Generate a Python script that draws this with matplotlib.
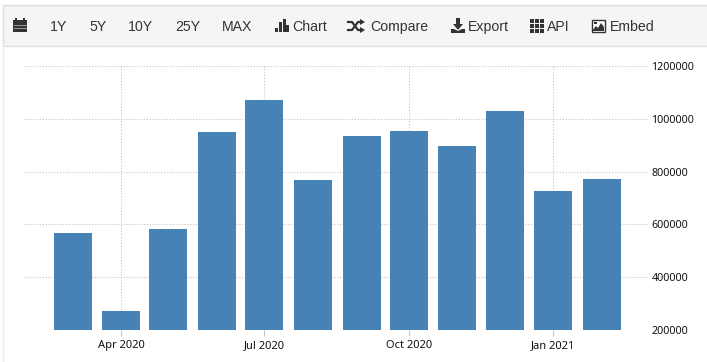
#!/usr/bin/env python3
import datetime as dt

import matplotlib
matplotlib.use("Agg")
import matplotlib.dates as mdates
import matplotlib.pyplot as plt
from matplotlib.patches import Rectangle, Polygon
from matplotlib.ticker import ScalarFormatter

W, H = 707, 362

months = ["2020-03", "2020-04", "2020-05", "2020-06", "2020-07", "2020-08",
          "2020-09", "2020-10", "2020-11", "2020-12", "2021-01", "2021-02"]
values = [567000, 272000, 582000, 950000, 1071000, 768000,
          935000, 954000, 897000, 1030000, 727000, 772000]
y_ticks = [200000, 400000, 600000, 800000, 1000000, 1200000]
x_ticks = ["2020-04", "2020-07", "2020-10", "2021-01"]
x_tick_labels = ["Apr 2020", "Jul 2020", "Oct 2020", "Jan 2021"]
toolbar_labels = ["1Y", "5Y", "10Y", "25Y", "MAX", "Chart", "Compare", "Export", "API", "Embed"]

BAR = "#4682b4"
GRID = "#c4c4c4"
TXT = "#333333"
ICON = "#333333"


def to_date(s):
    return mdates.date2num(dt.datetime.strptime(s, "%Y-%m"))


fig = plt.figure(figsize=(W / 100, H / 100), dpi=100, facecolor="white")

# page layer in pixel coordinates, toolbar and its icons live here
bg = fig.add_axes([0, 0, 1, 1])
bg.set_xlim(0, W)
bg.set_ylim(H, 0)
bg.axis("off")

bg.add_patch(Rectangle((3, 5), W, 41, fc="#f5f5f5", ec="#dddddd", lw=1))
bg.plot([3, 3], [46, H], color="#efefef", lw=1)

text_x = [50, 89, 128, 175, 222, 292, 370, 468, 547, 610]
for x, s in zip(text_x, toolbar_labels):
    bg.text(x, 25.5, s, family="Liberation Sans", fontsize=10.2, color=TXT, ha="left", va="center_baseline")

# calendar
bg.add_patch(Rectangle((13, 20), 14, 12, fc=ICON, ec="none"))
bg.add_patch(Rectangle((15, 18), 2, 3, fc=ICON, ec="none"))
bg.add_patch(Rectangle((23, 18), 2, 3, fc=ICON, ec="none"))
for yy in (25, 28):
    bg.plot([14, 26], [yy, yy], color="#999999", lw=0.7)

# bars icon
for x0, top in [(275, 28), (279, 22), (283, 19), (286, 25)]:
    bg.add_patch(Rectangle((x0, top), 2.6, 32 - top, fc=ICON, ec="none"))

# shuffle icon
bg.plot([348, 352, 358, 362], [22, 22, 30, 30], color=ICON, lw=1.6)
bg.plot([348, 352, 358, 362], [30, 30, 22, 22], color=ICON, lw=1.6)
bg.add_patch(Polygon([(360, 19), (365, 22), (360, 25)], fc=ICON, ec="none"))
bg.add_patch(Polygon([(360, 27), (365, 30), (360, 33)], fc=ICON, ec="none"))

# export icon
bg.add_patch(Rectangle((456, 18), 4, 7, fc=ICON, ec="none"))
bg.add_patch(Polygon([(453, 24), (463, 24), (458, 30)], fc=ICON, ec="none"))
bg.add_patch(Polygon([(451, 29), (454, 29), (458, 31), (462, 29), (465, 29), (465, 33), (451, 33)], fc=ICON, ec="none"))

# api grid icon
for cx in (530, 535, 540):
    for cy in (19, 24, 29):
        bg.add_patch(Rectangle((cx, cy), 3.6, 3.6, fc=ICON, ec="none"))

# image icon
bg.add_patch(Rectangle((591.5, 19.5), 13, 12, fc="white", ec=ICON, lw=1))
bg.add_patch(Polygon([(592, 31), (596, 26), (598, 28), (601, 23), (604, 27), (604, 31)], fc=ICON, ec="none"))
bg.add_patch(Rectangle((594, 21.5), 2.5, 2.5, fc=ICON, ec="none"))

# chart area: x 25-648, y 66-330 in pixels
ax = fig.add_axes([25 / W, 1 - 330 / H, (648 - 25) / W, (330 - 66) / H])
ax.patch.set_alpha(0)

px_per_day = 1.571
apr = to_date("2020-04")
ax.set_xlim(apr - (121.3 - 25) / px_per_day, apr + (648 - 121.3) / px_per_day)
ax.set_ylim(200000, 1200000)

ax.bar([to_date(m) for m in months], values, width=38 / px_per_day, color=BAR, zorder=3)

ax.set_yticks(y_ticks)
fmt = ScalarFormatter(useOffset=False)
fmt.set_scientific(False)
ax.yaxis.set_major_formatter(fmt)
ax.set_xticks([to_date(m) for m in x_ticks])
ax.set_xticklabels(x_tick_labels)
ax.yaxis.tick_right()
ax.grid(True, color=GRID, linestyle=(0, (1, 1.6)), linewidth=0.8, zorder=0)
ax.tick_params(axis="x", length=4, color=GRID, width=0.72, pad=3, labelsize=8, labelcolor="#111111")
ax.tick_params(axis="y", length=0, pad=2.5, labelsize=7.7, labelcolor="#111111")
for lab in ax.get_xticklabels() + ax.get_yticklabels():
    lab.set_family("Noto Sans")
for s in ax.spines.values():
    s.set_visible(False)

fig.savefig("out.png", dpi=100)
